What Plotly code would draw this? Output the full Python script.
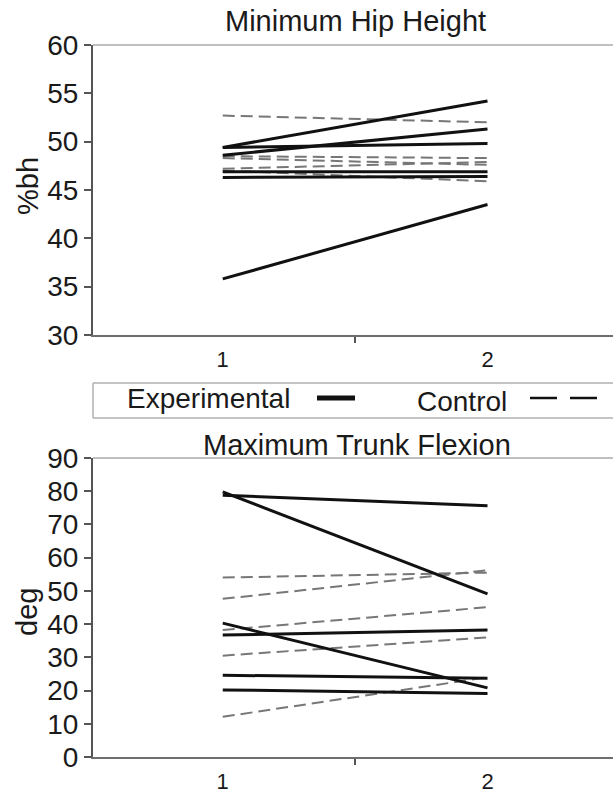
import plotly.graph_objects as go

# ---------------- data ----------------
categories = [1, 2]
x_tick_labels = ["1", "2"]

hip_exp_pre = [49.4, 48.6, 49.4, 46.9, 46.3, 35.8]
hip_exp_post = [54.2, 51.3, 49.8, 46.9, 46.4, 43.5]
hip_ctrl_pre = [52.7, 48.5, 48.3, 47.2, 47.0]
hip_ctrl_post = [52.0, 48.3, 47.6, 47.9, 45.9]

trunk_exp_pre = [78.8, 79.8, 40.3, 36.7, 24.6, 20.2]
trunk_exp_post = [75.6, 49.1, 20.8, 38.2, 23.7, 19.1]
trunk_ctrl_pre = [54.0, 47.6, 38.2, 30.5, 12.1]
trunk_ctrl_post = [55.5, 56.2, 45.1, 36.0, 24.0]

hip_y_ticks = [30, 35, 40, 45, 50, 55, 60]
trunk_y_ticks = [0, 10, 20, 30, 40, 50, 60, 70, 80, 90]

titles = ["Minimum Hip Height", "Maximum Trunk Flexion"]
y_titles = ["%bh", "deg"]
legend_labels = ["Experimental", "Control"]

# ---------------- figure ----------------
W, H = 613, 793
FONT = "Liberation Sans, Arial, sans-serif"
TXT = "#1a1a1a"


def px(x):
    return x / W


def py(y):
    return 1 - y / H


fig = go.Figure()

EXP_STYLE = dict(color="#111111", width=3)
CTRL_STYLE = dict(color="#777777", width=2, dash="12px,6px")

for pre, post, ax in [(hip_ctrl_pre, hip_ctrl_post, ("x", "y")),
                      (trunk_ctrl_pre, trunk_ctrl_post, ("x2", "y2"))]:
    for a, b in zip(pre, post):
        fig.add_trace(go.Scatter(x=categories, y=[a, b], mode="lines",
                                 line=CTRL_STYLE, xaxis=ax[0], yaxis=ax[1],
                                 showlegend=False, hoverinfo="skip"))

for pre, post, ax in [(hip_exp_pre, hip_exp_post, ("x", "y")),
                      (trunk_exp_pre, trunk_exp_post, ("x2", "y2"))]:
    for a, b in zip(pre, post):
        fig.add_trace(go.Scatter(x=categories, y=[a, b], mode="lines",
                                 line=EXP_STYLE, xaxis=ax[0], yaxis=ax[1],
                                 showlegend=False, hoverinfo="skip"))

x_dom = [px(93), 1.0]
x_range = [0.51, 2.474]

xaxis_common = dict(
    domain=x_dom, range=x_range, showline=True, linecolor="#6e6e6e",
    linewidth=2, tickmode="array", tickvals=categories, ticktext=x_tick_labels,
    ticks="", tickfont=dict(size=22, color=TXT, family=FONT),
    ticklabelstandoff=4, showgrid=False, zeroline=False, fixedrange=True,
    automargin=False,
    minor=dict(tickmode="array", tickvals=[1.5], ticks="outside", ticklen=6,
               tickcolor="#555555", tickwidth=2, showgrid=False),
)
yaxis_common = dict(
    showline=True, linecolor="#555555", linewidth=2, ticks="outside",
    ticklen=7, tickcolor="#555555", tickwidth=1.5, tickmode="array",
    tickfont=dict(size=28, color=TXT, family=FONT), showgrid=False,
    zeroline=False, fixedrange=True, automargin=False,
)

fig.update_layout(
    width=W, height=H, margin=dict(l=0, r=0, t=0, b=0, autoexpand=False),
    paper_bgcolor="white", plot_bgcolor="white",
    font=dict(family=FONT, color=TXT),
    xaxis=dict(**xaxis_common, anchor="y"),
    yaxis=dict(**yaxis_common, domain=[py(335), py(45)], range=[30, 60],
               tickvals=hip_y_ticks, anchor="x"),
    xaxis2=dict(**xaxis_common, anchor="y2"),
    yaxis2=dict(**yaxis_common, domain=[py(757), py(458)], range=[0, 90],
                tickvals=trunk_y_ticks, anchor="x2"),
    showlegend=False,
)

shapes = []
for xr, yr in [("x domain", "y domain"), ("x2 domain", "y2 domain")]:
    shapes.append(dict(type="line", xref=xr, yref=yr, x0=0, x1=1, y0=1, y1=1,
                       line=dict(color="#aaaaaa", width=1.5), layer="below"))

LB = "#b0b0b0"
shapes += [
    dict(type="line", xref="paper", yref="paper", x0=px(93), x1=1,
         y0=py(383), y1=py(383), line=dict(color=LB, width=1.5)),
    dict(type="line", xref="paper", yref="paper", x0=px(93), x1=1,
         y0=py(418), y1=py(418), line=dict(color=LB, width=1.5)),
    dict(type="line", xref="paper", yref="paper", x0=px(93), x1=px(93),
         y0=py(383), y1=py(418), line=dict(color=LB, width=1.5)),
    dict(type="line", xref="paper", yref="paper", x0=px(317), x1=px(355),
         y0=py(398), y1=py(398), line=dict(color="#111111", width=5)),
    dict(type="line", xref="paper", yref="paper", x0=px(530), x1=px(557),
         y0=py(398), y1=py(398), line=dict(color="#111111", width=2.5)),
    dict(type="line", xref="paper", yref="paper", x0=px(570), x1=px(597),
         y0=py(398), y1=py(398), line=dict(color="#111111", width=2.5)),
]
fig.update_layout(shapes=shapes)

TS = 29


def note(text, x, y, size=TS, angle=0):
    return dict(text=text, x=px(x), y=py(y), xref="paper", yref="paper",
                xanchor="center", yanchor="middle", textangle=angle,
                showarrow=False, font=dict(size=size, color=TXT, family=FONT))


ann = [
    note(titles[0], 355, 21),
    note(titles[1], 357, 445),
    note(y_titles[0], 28, 186, angle=-90),
    note(y_titles[1], 27, 612, angle=-90),
    note(legend_labels[0], 208, 398, size=28),
    note(legend_labels[1], 462, 401, size=28),
]
fig.update_layout(annotations=ann)

fig.write_html("out.html")
